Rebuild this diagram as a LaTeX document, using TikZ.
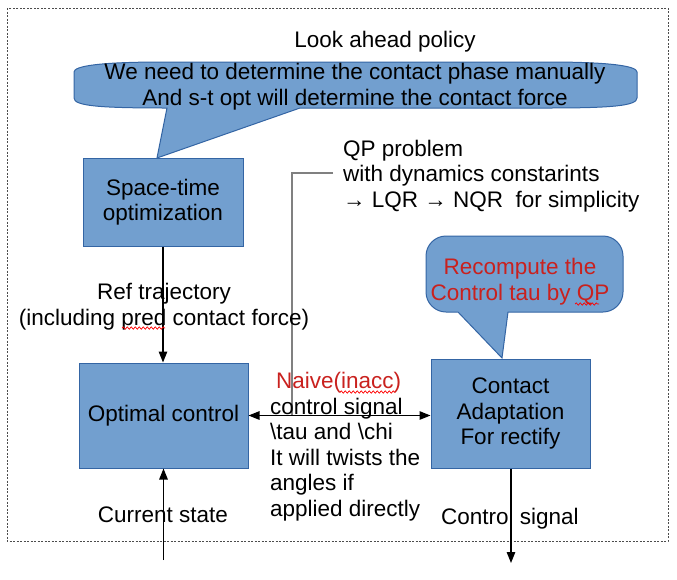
\documentclass[tikz,border=0pt]{standalone}
\usepackage{fontspec}
\setmainfont{Liberation Sans}
\usetikzlibrary{arrows.meta,decorations.pathmorphing}
\definecolor{boxfill}{HTML}{729FCF}
\definecolor{boxline}{HTML}{3465A4}
\definecolor{redtxt}{HTML}{C9211E}
\begin{document}
\begin{tikzpicture}[x=1pt,y=-1pt,
  txt/.style={inner sep=0pt, font=\fontsize{22.5}{25.5}\selectfont},
  lbl/.style={txt, yshift=-2pt},
  blk/.style={draw=boxline, fill=boxfill, line width=1pt, txt, align=center},
  bubble/.style={draw=boxline, fill=boxfill, line width=1pt},
  conn/.style={line width=1.2pt, -{Triangle[length=11pt,width=8.5pt]}},
  dconn/.style={line width=1.2pt, {Triangle[length=11pt,width=8.5pt]}-{Triangle[length=11pt,width=8.5pt]}},
  wavy/.style={draw=red, line width=0.7pt, decorate, decoration={snake, amplitude=1.2pt, segment length=4pt}}
]
\useasboundingbox (0,0) rectangle (677,579);
\draw[dash pattern=on 2pt off 1.5pt, line width=1pt, black!70] (7,8) rectangle (668,541);

% title
\node[lbl] (title) at (385,40) {Look ahead policy};

% big callout
\path[bubble] (157,158) -- (300,108) -- (548,108)
  .. controls (610,108) and (637,106) .. (637,98) -- (637,72)
  .. controls (637,66) and (610,62) .. (548,62) -- (163,62)
  .. controls (100,62) and (74,66) .. (74,72) -- (74,98)
  .. controls (74,106) and (100,108) .. (167,108) -- cycle;
\node[lbl, align=center] (cb) at (355,84.5) {We need to determine the contact phase manually\\And s-t opt will determine the contact force};

% boxes
\node[blk, minimum width=160pt, minimum height=88pt] (st) at (163,202) {\raisebox{-2pt}{\parbox{150pt}{\centering Space-time\\optimization}}};
\node[blk, minimum width=169pt, minimum height=105pt] (oc) at (163.5,415.5) {\raisebox{-2pt}{Optimal control}};
\node[blk, minimum width=159pt, minimum height=109pt] (ca) at (510.5,413.5) {\raisebox{-2pt}{\parbox{150pt}{\centering Contact\\Adaptation\\For rectify}}};

% small callout
\path[bubble] (502,358) -- (508,312) -- (603,312)
  .. controls (614,312) and (623,303) .. (623,292) -- (623,256)
  .. controls (623,245) and (614,236) .. (603,236) -- (446,236)
  .. controls (435,236) and (426,245) .. (426,256) -- (426,292)
  .. controls (426,303) and (435,312) .. (446,312) -- (458,312) -- cycle;
\node[lbl, align=center, text=redtxt] (rec) at (520,279.5) {Recompute the\\Control tau by QP};

% gray line
\coordinate (g1) at (333,173);
\coordinate (g2) at (292,415.5);
\draw[black!50, line width=1.5pt] (g1) -| (g2);

% connectors
\coordinate (cs) at (163.5,560);
\coordinate (out) at (511,563);
\draw[conn] (st.south) -- (st.south |- oc.north);
\draw[conn] (cs) -- (oc.south);
\draw[conn] (out |- ca.south) -- (out);
\draw[dconn] (oc.east) -- (oc.east -| ca.west);

% labels
\node[lbl, align=center] (ref) at (164,304.5) {Ref trajectory\\(including pred contact force)};
\node[lbl] (cur) at (163,513) {Current state};
\node[lbl] (ctrl) at (510,517) {Control signal};
\node[lbl, align=left, anchor=west] (qp) at (343,174) {QP problem\\with dynamics constarints\\→ LQR → NQR\ \ for simplicity};
\node[lbl, align=left, anchor=west] (naive) at (270,444.5) {{\color{redtxt}\hspace*{6pt}Naive(inacc)}\\control signal\\\textbackslash tau and \textbackslash chi\\It will twists the\\angles if\\applied directly};

% spell-check waves
\draw[wavy] (122,328) -- (165,328);
\draw[wavy] (340,392) -- (395,392);
\draw[wavy] (575,304) -- (599,304);
\end{tikzpicture}
\end{document}
